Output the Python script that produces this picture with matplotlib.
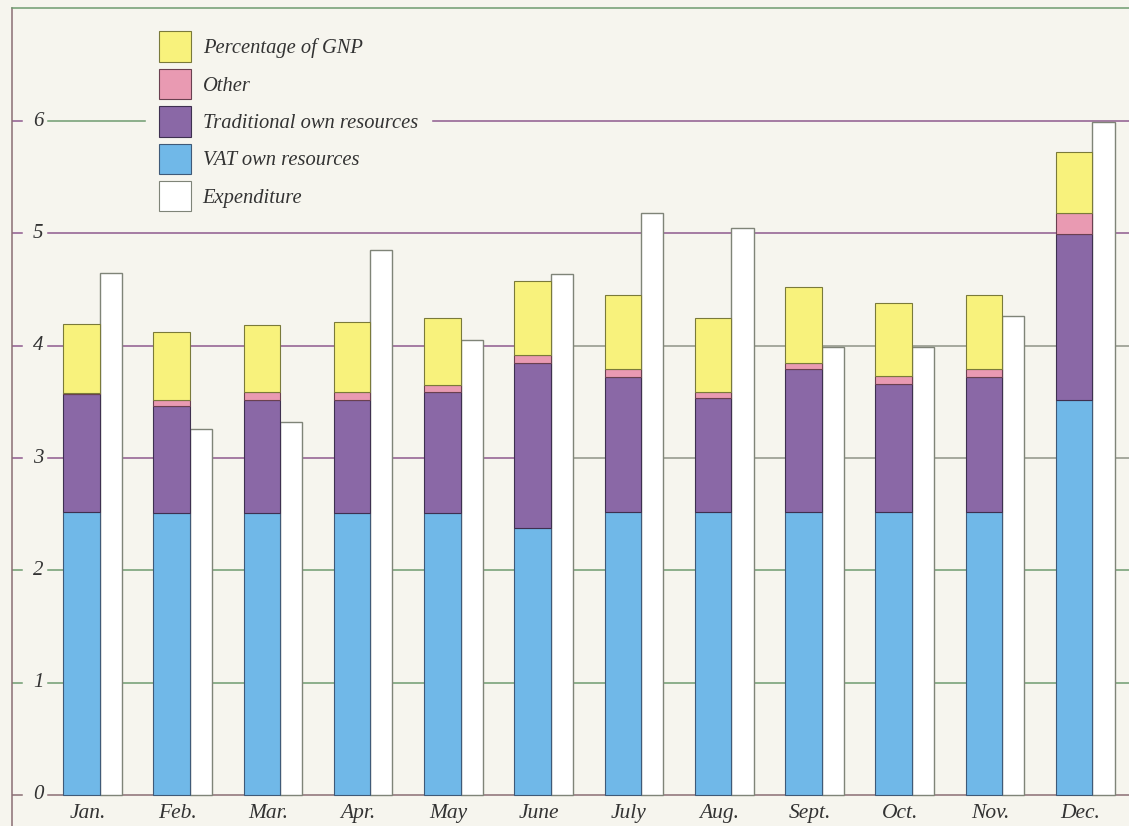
import matplotlib.pyplot as plt
from matplotlib.patches import Patch
from matplotlib.transforms import blended_transform_factory

# Monthly own resources vs expenditure
months = ['Jan.', 'Feb.', 'Mar.', 'Apr.', 'May', 'June', 'July', 'Aug.',
          'Sept.', 'Oct.', 'Nov.', 'Dec.']
vat = [2.52, 2.51, 2.51, 2.51, 2.51, 2.38, 2.52, 2.52, 2.52, 2.52, 2.52, 3.52]
traditional = [1.05, 0.95, 1.01, 1.01, 1.08, 1.47, 1.20, 1.01, 1.27, 1.14, 1.20, 1.47]
other = [0.01, 0.06, 0.07, 0.07, 0.06, 0.07, 0.07, 0.06, 0.06, 0.07, 0.07, 0.19]
gnp = [0.61, 0.60, 0.59, 0.62, 0.60, 0.66, 0.66, 0.66, 0.67, 0.65, 0.66, 0.54]
expenditure = [4.65, 3.26, 3.32, 4.85, 4.05, 4.64, 5.18, 5.05, 3.99, 3.99, 4.26, 5.99]
yticks = [0, 1, 2, 3, 4, 5, 6]

BG = '#f6f5ee'
YELLOW = '#f8f27c'
PINK = '#e99ab2'
PURPLE = '#8a68a6'
BLUE = '#70b8e8'
GREEN = '#6f9c70'
VIOLET = '#8e5a8e'
BROWN = '#8a6e74'
GREY = '#8f9488'

plt.rcParams['font.family'] = ['Liberation Serif', 'DejaVu Serif']

fig = plt.figure(figsize=(11.29, 8.26), dpi=100, facecolor=BG)
ax = fig.add_axes([12 / 1129, 0, 1 - 12 / 1129, 1 - 8 / 826], facecolor=BG)

w_stack = 0.405
w_exp = 0.245
x = list(range(len(months)))
x_exp = [i + w_stack for i in x]

ax.set_xlim(-0.565, 11.81)
ax.set_ylim(-0.276, 7.006)

# gridlines with a gap where the y labels sit
grid_start = 36 / 1117
tick_end = 10 / 1117
trans = blended_transform_factory(ax.transAxes, ax.transData)
for y in yticks:
    if y == 0:
        c = BROWN
    elif y in (1, 2):
        c = GREEN
    else:
        c = VIOLET
    if y in (3, 4):
        ax.axhline(y, xmin=grid_start, xmax=0.45, color=c, lw=1.1, zorder=1)
        ax.axhline(y, xmin=0.45, xmax=1, color=GREY, lw=1.1, zorder=1)
    elif y == 6:
        ax.axhline(y, xmin=grid_start, xmax=0.2, color=GREEN, lw=1.1, zorder=1)
        ax.axhline(y, xmin=0.2, xmax=1, color=VIOLET, lw=1.1, zorder=1)
    else:
        ax.axhline(y, xmin=grid_start, xmax=1, color=c, lw=1.1, zorder=1)
    ax.axhline(y, xmin=0, xmax=tick_end, color=c, lw=1.1, zorder=1)
    ax.text(26 / 1117, y, str(y), transform=trans, ha='center', va='center',
            fontsize=15, style='italic', color='#333333')

# stacked revenue bars
edge = dict(linewidth=0.8, zorder=3)
ax.bar(x, vat, w_stack, align='edge', color=BLUE, edgecolor='#3f5a78', **edge)
bottom = vat[:]
ax.bar(x, traditional, w_stack, bottom=bottom, align='edge', color=PURPLE,
       edgecolor='#3e3050', **edge)
bottom = [b + t for b, t in zip(bottom, traditional)]
ax.bar(x, other, w_stack, bottom=bottom, align='edge', color=PINK,
       edgecolor='#6a4050', **edge)
bottom = [b + o for b, o in zip(bottom, other)]
ax.bar(x, gnp, w_stack, bottom=bottom, align='edge', color=YELLOW,
       edgecolor='#7a7a3a', **edge)

# expenditure bars
ax.bar(x_exp, expenditure, w_exp, align='edge', color='white',
       edgecolor='#7f8478', linewidth=1.0, zorder=2)

for i, m in enumerate(months):
    ax.text(i + 0.27, -0.165, m, ha='center', va='center', fontsize=15.5,
            style='italic', color='#333333')

ax.set_xticks([])
ax.set_yticks([])
for s in ['right', 'bottom']:
    ax.spines[s].set_visible(False)
ax.spines['top'].set_color(GREEN)
ax.spines['left'].set_color(BROWN)
ax.spines['top'].set_linewidth(1.1)
ax.spines['left'].set_linewidth(1.1)

handles = [
    Patch(facecolor=YELLOW, edgecolor='#7a7a3a', lw=0.8, label='Percentage of GNP'),
    Patch(facecolor=PINK, edgecolor='#6a4050', lw=0.8, label='Other'),
    Patch(facecolor=PURPLE, edgecolor='#3e3050', lw=0.8, label='Traditional own resources'),
    Patch(facecolor=BLUE, edgecolor='#3f5a78', lw=0.8, label='VAT own resources'),
    Patch(facecolor='white', edgecolor='#7f8478', lw=0.8, label='Expenditure'),
]
leg = fig.legend(handles=handles, loc='upper left',
                 bbox_to_anchor=(146 / 1129, 1 - 18 / 826),
                 prop={'size': 14.8, 'style': 'italic'}, frameon=True,
                 facecolor=BG, edgecolor=BG, framealpha=1, fancybox=False,
                 borderpad=0.65, borderaxespad=0, handlelength=1.56,
                 handleheight=1.9, labelspacing=0.34, handletextpad=0.55)
for t in leg.get_texts():
    t.set_color('#333333')

fig.savefig('out.png', dpi=100, facecolor=BG)
